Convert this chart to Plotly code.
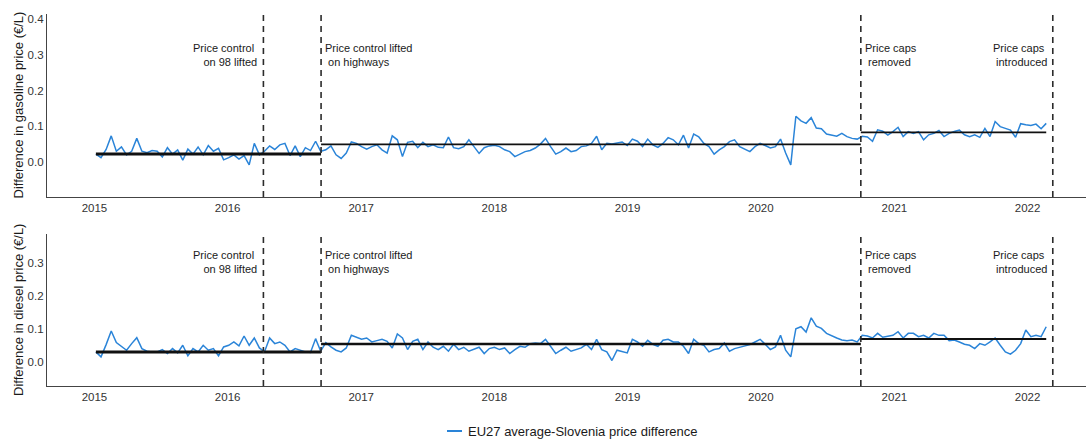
import pandas as pd
import plotly.graph_objects as go

# ---------------------------------------------------------------------------
# Data: fortnightly EU27-average minus Slovenia retail price difference (EUR/L)
# ---------------------------------------------------------------------------
first_obs = "2015-01-05"

gasoline_diff = [
    # 2015
    0.022, 0.012, 0.035, 0.073, 0.030, 0.042, 0.020, 0.030, 0.066, 0.030, 0.026, 0.032, 0.030,
    0.014, 0.040, 0.022, 0.034, 0.005, 0.036, 0.022, 0.042, 0.020, 0.046, 0.030, 0.038, 0.006,
    # 2016
    0.012, 0.020, 0.008, 0.018, -0.008, 0.052, 0.020, 0.030, 0.045, 0.035, 0.048, 0.052, 0.018,
    0.045, 0.015, 0.040, 0.032, 0.058, 0.030, 0.034, 0.045, 0.020, 0.010, 0.025, 0.056, 0.052,
    # 2017
    0.043, 0.036, 0.043, 0.048, 0.034, 0.025, 0.073, 0.062, 0.015, 0.055, 0.058, 0.040, 0.055,
    0.043, 0.048, 0.041, 0.040, 0.070, 0.040, 0.037, 0.043, 0.062, 0.043, 0.024, 0.040, 0.045,
    # 2018
    0.047, 0.043, 0.034, 0.029, 0.015, 0.022, 0.029, 0.032, 0.039, 0.050, 0.066, 0.043, 0.022,
    0.029, 0.039, 0.029, 0.032, 0.043, 0.045, 0.052, 0.072, 0.034, 0.052, 0.050, 0.052, 0.056,
    # 2019
    0.046, 0.064, 0.058, 0.043, 0.064, 0.048, 0.041, 0.052, 0.068, 0.062, 0.048, 0.075, 0.039,
    0.078, 0.070, 0.052, 0.043, 0.022, 0.034, 0.043, 0.057, 0.062, 0.043, 0.036, 0.029, 0.043,
    # 2020
    0.052, 0.046, 0.039, 0.043, 0.064, 0.025, -0.008, 0.128, 0.115, 0.108, 0.124, 0.095, 0.093,
    0.078, 0.075, 0.072, 0.080, 0.071, 0.066, 0.064, 0.072, 0.070, 0.058, 0.090, 0.086, 0.075,
    # 2021
    0.085, 0.097, 0.071, 0.085, 0.080, 0.085, 0.062, 0.076, 0.080, 0.088, 0.071, 0.080, 0.085,
    0.089, 0.076, 0.071, 0.076, 0.069, 0.094, 0.071, 0.113, 0.099, 0.094, 0.089, 0.069, 0.107,
    # 2022
    0.104, 0.102, 0.106, 0.093, 0.108,
]

diesel_diff = [
    # 2015
    0.030, 0.015, 0.052, 0.093, 0.058, 0.045, 0.035, 0.055, 0.073, 0.040, 0.032, 0.030, 0.030,
    0.037, 0.025, 0.040, 0.027, 0.050, 0.018, 0.040, 0.030, 0.050, 0.035, 0.040, 0.018, 0.045,
    # 2016
    0.050, 0.060, 0.048, 0.078, 0.050, 0.072, 0.042, 0.030, 0.072, 0.055, 0.060, 0.050, 0.030,
    0.040, 0.035, 0.030, 0.028, 0.070, 0.032, 0.058, 0.045, 0.035, 0.030, 0.042, 0.080, 0.074,
    # 2017
    0.068, 0.072, 0.060, 0.064, 0.068, 0.062, 0.042, 0.084, 0.072, 0.037, 0.062, 0.068, 0.037,
    0.060, 0.044, 0.037, 0.047, 0.032, 0.053, 0.037, 0.044, 0.032, 0.037, 0.044, 0.025, 0.040,
    # 2018
    0.044, 0.037, 0.042, 0.025, 0.037, 0.047, 0.044, 0.055, 0.057, 0.055, 0.068, 0.047, 0.025,
    0.035, 0.044, 0.032, 0.037, 0.042, 0.053, 0.037, 0.068, 0.037, 0.030, 0.004, 0.035, 0.030,
    # 2019
    0.027, 0.068, 0.060, 0.047, 0.065, 0.053, 0.047, 0.065, 0.068, 0.060, 0.060, 0.047, 0.025,
    0.068, 0.055, 0.050, 0.030, 0.037, 0.040, 0.057, 0.032, 0.040, 0.044, 0.047, 0.052, 0.060,
    # 2020
    0.068, 0.053, 0.037, 0.045, 0.080, 0.035, 0.015, 0.100, 0.106, 0.090, 0.133, 0.108, 0.101,
    0.086, 0.078, 0.072, 0.066, 0.064, 0.066, 0.060, 0.080, 0.078, 0.072, 0.086, 0.074, 0.076,
    # 2021
    0.080, 0.091, 0.072, 0.086, 0.086, 0.076, 0.080, 0.072, 0.086, 0.080, 0.080, 0.064, 0.066,
    0.060, 0.053, 0.050, 0.040, 0.055, 0.050, 0.060, 0.072, 0.050, 0.030, 0.023, 0.035, 0.055,
    # 2022
    0.096, 0.076, 0.080, 0.076, 0.106,
]

# Policy events (vertical dashed lines) and their labels
event_dates = ["2016-04-08", "2016-09-13", "2020-10-01", "2022-03-11"]
event_labels = [
    "Price control\u00a0<br>on 98 lifted",
    "Price control lifted<br>\u00a0on highways",
    "Price caps<br>\u00a0removed",
    "Price caps\u00a0<br>introduced",
]
event_text_side = ["left", "right", "right", "left"]

# Regime averages: start -> highway deregulation -> caps removed -> end
gasoline_means = [0.022, 0.049, 0.083]
diesel_means = [0.030, 0.054, 0.069]

year_labels = ["2015", "2016", "2017", "2018", "2019", "2020", "2021", "2022"]
legend_label = "EU27 average-Slovenia price difference"

# ---------------------------------------------------------------------------
W, H = 1086, 440
ML, MR, MT, MB = 47, 0, 14, 54
PW, PH = W - ML - MR, H - MT - MB

FONT = "Liberation Sans, Arial, Helvetica, sans-serif"
BLUE = "#2a84d8"
INK = "#1a1a1a"
AXIS = "#444444"


def paper_x(px):
    return (px - ML) / PW


def paper_y(py):
    return (H - MB - py) / PH


dates = pd.date_range(first_obs, periods=len(gasoline_diff), freq="14D")
regime_edges = [dates[0], pd.Timestamp(event_dates[1]), pd.Timestamp(event_dates[2]), dates[-1]]

panels = [
    dict(values=gasoline_diff, means=gasoline_means, widths=[3.0, 1.7, 1.8],
         xa="x", ya="y", ykey="yaxis", xkey="xaxis",
         title="Difference in gasoline price (€/L)",
         yrange=[-0.098, 0.414], yticks=[0.0, 0.1, 0.2, 0.3, 0.4],
         domain=[paper_y(197), 1.0]),
    dict(values=diesel_diff, means=diesel_means, widths=[3.0, 2.6, 2.0],
         xa="x2", ya="y2", ykey="yaxis2", xkey="xaxis2",
         title="Difference in diesel price (€/L)",
         yrange=[-0.073, 0.386], yticks=[0.0, 0.1, 0.2, 0.3],
         domain=[0.0, paper_y(234)]),
]

fig = go.Figure()
shapes = []
annotations = []
year_ticks = [pd.Timestamp(f"{y}-01-01") for y in year_labels]

for p in panels:
    # price difference series
    fig.add_trace(go.Scatter(
        x=dates, y=p["values"], mode="lines", xaxis=p["xa"], yaxis=p["ya"],
        line=dict(color=BLUE, width=1.5), showlegend=False, hoverinfo="skip"))
    # regime average segments
    for i, m in enumerate(p["means"]):
        fig.add_trace(go.Scatter(
            x=[regime_edges[i], regime_edges[i + 1]], y=[m, m], mode="lines",
            xaxis=p["xa"], yaxis=p["ya"],
            line=dict(color="#111111", width=p["widths"][i]),
            showlegend=False, hoverinfo="skip"))
    # event lines and labels
    for d, lab, side in zip(event_dates, event_labels, event_text_side):
        shapes.append(dict(
            type="line", xref=p["xa"], yref=f"{p['ya']} domain",
            x0=d, x1=d, y0=0, y1=1,
            line=dict(color="#2b2b2b", width=1.6, dash="6px,5px")))
        annotations.append(dict(
            x=d, y=0.3, xref=p["xa"], yref=p["ya"], text=lab, showarrow=False,
            xanchor="right" if side == "left" else "left",
            align="right" if side == "left" else "left",
            xshift=-4 if side == "left" else 2,
            yanchor="middle", font=dict(family=FONT, size=11, color=INK)))
    # y axis title
    annotations.append(dict(
        x=paper_x(18), y=sum(p["domain"]) / 2, xref="paper", yref="paper",
        text=p["title"], textangle=-90, showarrow=False,
        xanchor="center", yanchor="middle",
        font=dict(family=FONT, size=13, color=INK)))

    fig.update_layout(**{
        p["xkey"]: dict(
            type="date", range=["2014-08-24", "2022-06-10"],
            anchor=p["ya"], domain=[0, 1],
            tickvals=year_ticks, ticktext=year_labels,
            showline=True, linecolor=AXIS, linewidth=1.2,
            showgrid=False, zeroline=False, ticks="",
            tickfont=dict(family=FONT, size=11.5, color="#333333")),
        p["ykey"]: dict(
            range=p["yrange"], domain=p["domain"], anchor=p["xa"],
            tickvals=p["yticks"], tickformat=".1f",
            showline=True, linecolor=AXIS, linewidth=1.2,
            showgrid=False, zeroline=False, ticks="",
            tickfont=dict(family=FONT, size=11.5, color="#333333")),
    })

# legend key drawn below the lower panel
shapes.append(dict(
    type="line", xref="paper", yref="paper",
    x0=paper_x(447), x1=paper_x(462), y0=paper_y(431), y1=paper_y(431),
    line=dict(color=BLUE, width=2)))
annotations.append(dict(
    x=paper_x(466), y=paper_y(431), xref="paper", yref="paper",
    text=legend_label, showarrow=False, xanchor="left", yanchor="middle",
    font=dict(family=FONT, size=13, color=INK)))

fig.update_layout(
    width=W, height=H,
    margin=dict(l=ML, r=MR, t=MT, b=MB, pad=0),
    paper_bgcolor="white", plot_bgcolor="white",
    showlegend=False,
    shapes=shapes, annotations=annotations,
    font=dict(family=FONT),
)

fig.write_html("out.html")
